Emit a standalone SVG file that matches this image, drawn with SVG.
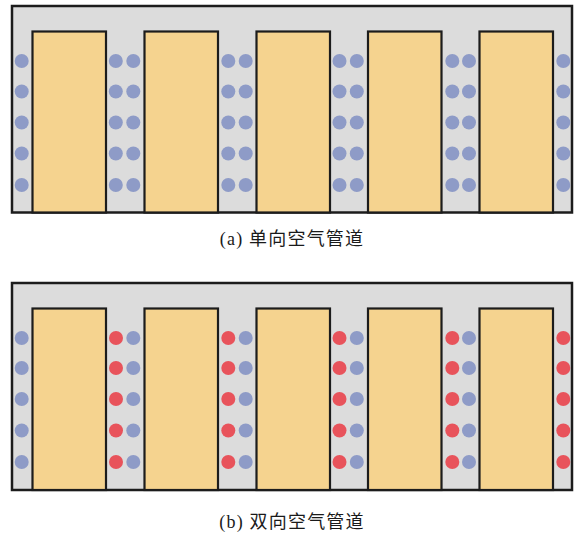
<svg xmlns="http://www.w3.org/2000/svg" xmlns:xlink="http://www.w3.org/1999/xlink" width="577" height="536" viewBox="0 0 577 536">
  <style>
    .bg { fill: #ffffff; }
    .frame { fill: #dcdcdc; stroke: #1c1c1c; stroke-width: 2.5; }
    .pack { fill: #f5d38f; stroke: #1c1c1c; stroke-width: 2.2; }
    .cool { fill: #8e9bc7; }
    .hot { fill: #e8535b; }
    .cap { font-family: "Liberation Serif", "Noto Sans CJK SC", serif; font-size: 18px; fill: #1a1a1a; letter-spacing: 1.2px; }
  </style>
  <defs>
    <!-- column of five duct holes -->
    <g id="colBlueA">
      <circle class="cool" cx="0" cy="61" r="7"/>
      <circle class="cool" cx="0" cy="91.5" r="7"/>
      <circle class="cool" cx="0" cy="122.5" r="7"/>
      <circle class="cool" cx="0" cy="153.5" r="7"/>
      <circle class="cool" cx="0" cy="185" r="7"/>
    </g>
    <g id="colBlueB">
      <circle class="cool" cx="0" cy="338" r="7"/>
      <circle class="cool" cx="0" cy="368" r="7"/>
      <circle class="cool" cx="0" cy="399" r="7"/>
      <circle class="cool" cx="0" cy="430.5" r="7"/>
      <circle class="cool" cx="0" cy="462" r="7"/>
    </g>
    <g id="colRedB">
      <circle class="hot" cx="0" cy="338" r="7"/>
      <circle class="hot" cx="0" cy="368" r="7"/>
      <circle class="hot" cx="0" cy="399" r="7"/>
      <circle class="hot" cx="0" cy="430.5" r="7"/>
      <circle class="hot" cx="0" cy="462" r="7"/>
    </g>
  </defs>

  <rect class="bg" x="0" y="0" width="577" height="536"/>

  <!-- (a) one-way air ducts -->
  <g id="panelA">
    <rect class="frame" x="12" y="6" width="560" height="206.5"/>
    <g id="a-cell1"><rect class="pack" x="32.5" y="31.5" width="73.5" height="181"/></g>
    <g id="a-cell2"><rect class="pack" x="144.5" y="31.5" width="73.5" height="181"/></g>
    <g id="a-cell3"><rect class="pack" x="256.5" y="31.5" width="73.5" height="181"/></g>
    <g id="a-cell4"><rect class="pack" x="368" y="31.5" width="73.5" height="181"/></g>
    <g id="a-cell5"><rect class="pack" x="479.5" y="31.5" width="73.5" height="181"/></g>
    <g id="a-ducts">
      <use xlink:href="#colBlueA" x="21.7"/>
      <use xlink:href="#colBlueA" x="115.8"/>
      <use xlink:href="#colBlueA" x="133.3"/>
      <use xlink:href="#colBlueA" x="228.3"/>
      <use xlink:href="#colBlueA" x="245.7"/>
      <use xlink:href="#colBlueA" x="339.5"/>
      <use xlink:href="#colBlueA" x="356.8"/>
      <use xlink:href="#colBlueA" x="452.3"/>
      <use xlink:href="#colBlueA" x="469"/>
      <use xlink:href="#colBlueA" x="563.3"/>
    </g>
    <text class="cap" x="292" y="245" text-anchor="middle">(a) 单向空气管道</text>
  </g>

  <!-- (b) two-way air ducts -->
  <g id="panelB">
    <rect class="frame" x="12" y="283" width="560" height="207"/>
    <g id="b-cell1"><rect class="pack" x="32.5" y="308.5" width="73.5" height="181.5"/></g>
    <g id="b-cell2"><rect class="pack" x="144.5" y="308.5" width="73.5" height="181.5"/></g>
    <g id="b-cell3"><rect class="pack" x="256.5" y="308.5" width="73.5" height="181.5"/></g>
    <g id="b-cell4"><rect class="pack" x="368" y="308.5" width="73.5" height="181.5"/></g>
    <g id="b-cell5"><rect class="pack" x="479.5" y="308.5" width="73.5" height="181.5"/></g>
    <g id="b-ducts">
      <use xlink:href="#colBlueB" x="21.7"/>
      <use xlink:href="#colRedB" x="116"/>
      <use xlink:href="#colBlueB" x="133.3"/>
      <use xlink:href="#colRedB" x="228.3"/>
      <use xlink:href="#colBlueB" x="245.7"/>
      <use xlink:href="#colRedB" x="339.5"/>
      <use xlink:href="#colBlueB" x="356.8"/>
      <use xlink:href="#colRedB" x="452.3"/>
      <use xlink:href="#colBlueB" x="469"/>
      <use xlink:href="#colRedB" x="563.3"/>
    </g>
    <text class="cap" x="292" y="528" text-anchor="middle">(b) 双向空气管道</text>
  </g>
</svg>
